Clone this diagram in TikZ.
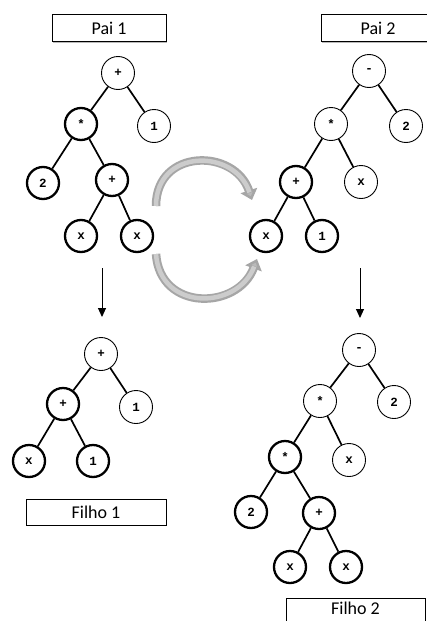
\documentclass[tikz,border=0pt]{standalone}
\usepackage{fontspec}
\setmainfont{Carlito}
\newfontfamily\monof{Liberation Mono}
\usetikzlibrary{arrows.meta,shadows}
\begin{document}
\begin{tikzpicture}[x=1pt,y=-1pt,
  thinnode/.style={circle,draw,line width=0.9pt,minimum size=33pt,inner sep=0pt,font=\monof\bfseries\fontsize{12.5}{12.5}\selectfont},
  thicknode/.style={thinnode,line width=2.3pt,minimum size=32pt},
  edge/.style={line width=1.7pt},
  titlebox/.style={draw,line width=0.8pt,fill=white,minimum height=27pt,inner sep=0pt,font=\fontsize{18}{19}\selectfont,drop shadow={shadow xshift=1.2pt,shadow yshift=-1.2pt,fill=gray!55,opacity=1}},
  downarrow/.style={line width=1pt,-{Triangle[length=9pt,width=8pt]}},
  swaparrow/.style={line width=8.5pt,draw=gray!70,-{Triangle[length=10pt,width=17pt,fill=gray!55]}},
  swapinner/.style={line width=4.5pt,draw=gray!40,shorten >=8pt}]
\useasboundingbox (0,0) rectangle (427,621);
\fill[white] (0,0) rectangle (427,621);

% ---------- Pai 1 ----------
\node[titlebox,minimum width=114pt] (p1lab) at (109,28) {Pai 1};
\node[thinnode]  (p1r)  at (118,73)  {+};
\node[thinnode]  (p1a)  at (154,126) {1};
\node[thicknode] (p1m)  at (81,124)  {*};
\node[thicknode] (p1b)  at (43,183)  {2};
\node[thicknode] (p1p)  at (112,180) {+};
\node[thicknode] (p1x1) at (81,236)  {x};
\node[thicknode] (p1x2) at (137,236) {x};
\draw[edge] (p1r) -- (p1m);
\draw[edge] (p1r) -- (p1a);
\draw[edge] (p1m) -- (p1b);
\draw[edge] (p1m) -- (p1p);
\draw[edge] (p1p) -- (p1x1);
\draw[edge] (p1p) -- (p1x2);

% ---------- Pai 2 ----------
\node[titlebox,minimum width=114pt] (p2lab) at (378,28) {Pai 2};
\node[thinnode]  (p2r)  at (369,71)  {-};
\node[thinnode]  (p2a)  at (406,126) {2};
\node[thinnode]  (p2m)  at (331,124) {*};
\node[thinnode]  (p2x)  at (361,182) {x};
\node[thicknode] (p2p)  at (296,182) {+};
\node[thicknode] (p2x1) at (266,236) {x};
\node[thicknode] (p2o)  at (322,236) {1};
\draw[edge] (p2r) -- (p2m);
\draw[edge] (p2r) -- (p2a);
\draw[edge] (p2m) -- (p2p);
\draw[edge] (p2m) -- (p2x);
\draw[edge] (p2p) -- (p2x1);
\draw[edge] (p2p) -- (p2o);

% ---------- swap arrows ----------
\coordinate (s1a) at (156,206);
\coordinate (s1b) at (252,200);
\coordinate (s2a) at (156,254);
\coordinate (s2b) at (257,259);
\draw[swaparrow] (s1a) .. controls (156,148) and (235,148) .. (s1b);
\draw[swapinner] (s1a) .. controls (156,148) and (235,148) .. (s1b);
\draw[swaparrow] (s2a) .. controls (160,312) and (238,310) .. (s2b);
\draw[swapinner] (s2a) .. controls (160,312) and (238,310) .. (s2b);

% ---------- down arrows ----------
\coordinate (d1a) at (102,268);
\coordinate (d1b) at (102,317);
\coordinate (d2a) at (360,268);
\coordinate (d2b) at (360,318);
\draw[downarrow] (d1a) -- (d1b);
\draw[downarrow] (d2a) -- (d2b);

% ---------- Filho 1 ----------
\node[thinnode]  (f1r)  at (101,354) {+};
\node[thinnode]  (f1a)  at (136,407) {1};
\node[thicknode] (f1p)  at (63,404)  {+};
\node[thicknode] (f1x)  at (29,461)  {x};
\node[thicknode] (f1o)  at (93,461)  {1};
\draw[edge] (f1r) -- (f1p);
\draw[edge] (f1r) -- (f1a);
\draw[edge] (f1p) -- (f1x);
\draw[edge] (f1p) -- (f1o);
\node[titlebox,minimum width=140pt,minimum height=26pt] (f1lab) at (96,512) {Filho 1};

% ---------- Filho 2 ----------
\node[thinnode]  (f2r)  at (359,350) {-};
\node[thinnode]  (f2a)  at (394,402) {2};
\node[thinnode]  (f2m)  at (320,401) {*};
\node[thinnode]  (f2x)  at (349,460) {x};
\node[thicknode] (f2s)  at (285,457) {*};
\node[thicknode] (f2b)  at (251,512) {2};
\node[thicknode] (f2p)  at (319,513) {+};
\node[thicknode] (f2x1) at (290,567) {x};
\node[thicknode] (f2x2) at (346,567) {x};
\draw[edge] (f2r) -- (f2m);
\draw[edge] (f2r) -- (f2a);
\draw[edge] (f2m) -- (f2s);
\draw[edge] (f2m) -- (f2x);
\draw[edge] (f2s) -- (f2b);
\draw[edge] (f2s) -- (f2p);
\draw[edge] (f2p) -- (f2x1);
\draw[edge] (f2p) -- (f2x2);
\node[titlebox,minimum width=139pt,minimum height=0pt,anchor=north,text height=16pt,text depth=16pt] (f2lab) at (355.5,598) {Filho 2};
\end{tikzpicture}
\end{document}
